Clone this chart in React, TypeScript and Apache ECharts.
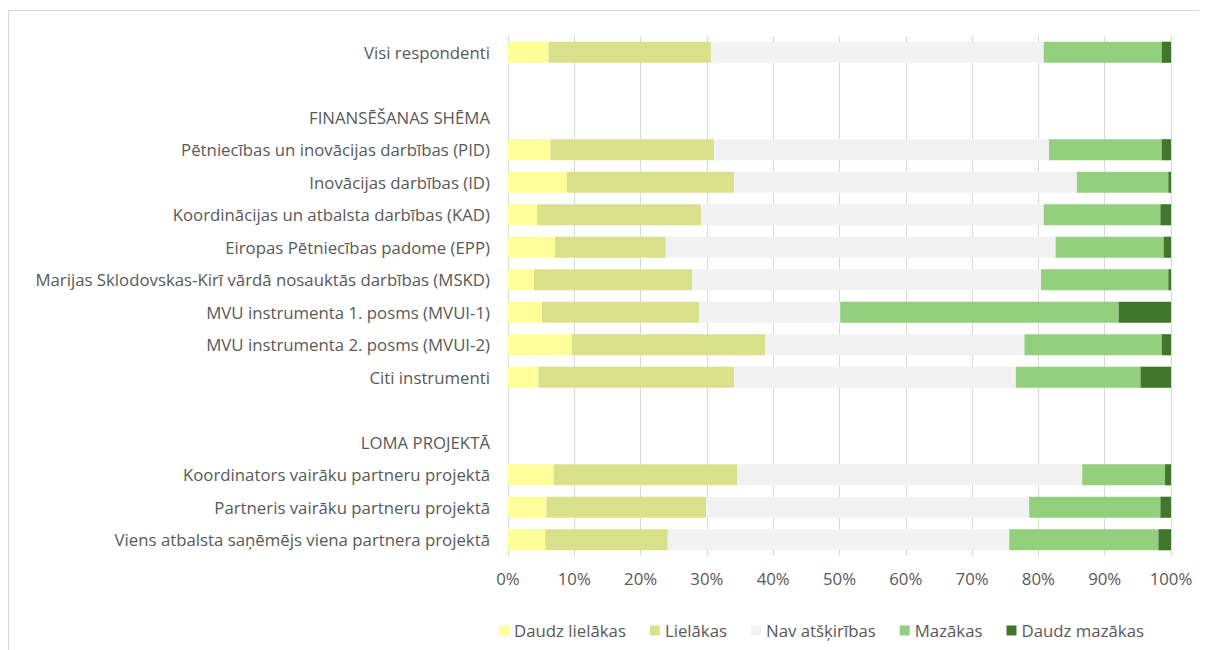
import React, { useEffect, useRef } from "react";
import * as echarts from "echarts";

const categories = [
  "Visi respondenti",
  "",
  "FINANSĒŠANAS SHĒMA",
  "Pētniecības un inovācijas darbības (PID)",
  "Inovācijas darbības (ID)",
  "Koordinācijas un atbalsta darbības (KAD)",
  "Eiropas Pētniecības padome (EPP)",
  "Marijas Sklodovskas-Kirī vārdā nosauktās darbības (MSKD)",
  "MVU instrumenta 1. posms (MVUI-1)",
  "MVU instrumenta 2. posms (MVUI-2)",
  "Citi instrumenti",
  " ",
  "LOMA PROJEKTĀ",
  "Koordinators vairāku partneru projektā",
  "Partneris vairāku partneru projektā",
  "Viens atbalsta saņēmējs viena partnera projektā",
];

const seriesNames = ["Daudz lielākas", "Lielākas", "Nav atšķirības", "Mazākas", "Daudz mazākas"];

const daudzLielakas = [6.1, null, null, 6.4, 8.9, 4.4, 7.1, 3.9, 5.1, 9.6, 4.6, null, null, 6.9, 5.8, 5.6];
const lielakas = [24.5, null, null, 24.7, 25.2, 24.7, 16.7, 23.9, 23.7, 29.2, 29.5, null, null, 27.7, 24.1, 18.5];
const navAtskiribas = [50.2, null, null, 50.5, 51.7, 51.7, 58.8, 52.6, 21.3, 39.1, 42.5, null, null, 52.0, 48.7, 51.5];
const mazakas = [17.8, null, null, 17.0, 13.8, 17.6, 16.3, 19.2, 42.0, 20.7, 18.8, null, null, 12.5, 19.8, 22.5];
const daudzMazakas = [1.4, null, null, 1.4, 0.4, 1.6, 1.1, 0.4, 7.9, 1.4, 4.6, null, null, 0.9, 1.6, 1.9];

const xTicks = [0, 10, 20, 30, 40, 50, 60, 70, 80, 90, 100];

const colors = ["#FFFF99", "#D9E28B", "#F2F2F2", "#93D07E", "#41772B"];

export default function App() {
  const ref = useRef<HTMLDivElement>(null);
  useEffect(() => {
    if (!ref.current) return;
    const chart = echarts.init(ref.current, null, { renderer: "svg" });
    const font = "'Open Sans', Lato, sans-serif";
    const fs = 16.8;
    const values = [daudzLielakas, lielakas, navAtskiribas, mazakas, daudzMazakas];
    chart.setOption({
      animation: false,
      textStyle: { fontFamily: font, color: "#595959" },
      grid: { left: 499, right: 28, top: 25, bottom: 85, containLabel: false },
      legend: {
        left: 485,
        top: 606,
        itemWidth: 10,
        itemHeight: 10,
        itemGap: 24,
        icon: "rect",
        textStyle: { fontFamily: font, fontSize: fs, color: "#595959", padding: [0, 0, 0, 0] },
        data: seriesNames,
      },
      xAxis: {
        type: "value",
        min: 0,
        max: 100,
        interval: 10,
        axisLine: { show: false },
        axisTick: { show: false },
        splitLine: { show: true, lineStyle: { color: "#D9D9D9", width: 1 } },
        axisLabel: {
          fontFamily: font,
          fontSize: fs,
          color: "#595959",
          margin: 14,
          formatter: (v: number) => (xTicks.includes(v) ? v + "%" : ""),
        },
      },
      yAxis: {
        type: "category",
        inverse: true,
        data: categories,
        axisLine: { show: false },
        axisTick: { show: false },
        splitLine: { show: false },
        axisLabel: { fontFamily: font, fontSize: fs, color: "#595959", margin: 18, interval: 0 },
      },
      series: seriesNames.map((name, i) => ({
        name,
        type: "bar",
        stack: "total",
        barCategoryGap: "35%",
        data: values[i],
        itemStyle: { color: colors[i] },
        emphasis: { disabled: true },
      })),
    });
    return () => chart.dispose();
  }, []);
  return (
    <div style={{ marginTop: 2, width: 1198, height: 640, borderTop: "1px solid #D9D9D9", borderLeft: "1px solid #D9D9D9" }}>
      <div ref={ref} style={{ width: 1190, height: 630 }} />
    </div>
  );
}
